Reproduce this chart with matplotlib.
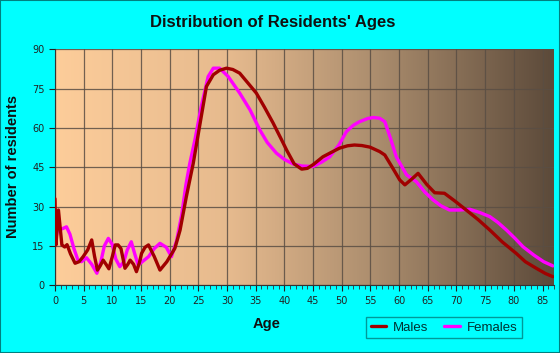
import numpy as np
import matplotlib
matplotlib.use("Agg")
import matplotlib.pyplot as plt
from matplotlib.colors import LinearSegmentedColormap

# ---- data ----
male_age = [0, 0.17, 0.6, 1.2, 1.7, 2.1, 2.7, 3.5, 4.2, 4.9, 5.7, 6.4, 6.9, 7.4, 7.9, 8.4,
            8.9, 9.4, 10.0, 10.5, 11.0, 11.5, 12.2, 12.7, 13.1, 13.7, 14.2, 14.7, 15.1, 15.7,
            16.3, 17.3, 18.3, 19.5, 20.9, 21.8, 22.9, 24.1, 25.3, 26.4, 27.6, 28.7, 29.9, 31.0,
            32.2, 33.5, 35.1, 36.5, 38.0, 39.5, 40.4, 41.7, 43.0, 44.0, 45.0, 46.7, 48.0, 49.6,
            51.0, 52.2, 53.5, 54.9, 56.6, 57.5, 58.8, 60.1, 61.0, 62.2, 63.3, 64.8, 66.2, 67.9,
            69.8, 71.7, 73.8, 75.8, 78.0, 80.4, 82.0, 83.9, 85.5, 86.8]
male_val = [33, 15.4, 28.7, 15.4, 14.6, 15.5, 12, 8.4, 9, 10.9, 13.5, 17.3, 11, 5.8, 7.5, 9.6,
            8, 6.3, 11, 15.4, 15.4, 14, 6.5, 8, 9.6, 8, 5.2, 8.5, 12.2, 14.5,
            15.4, 11, 5.8, 9, 14.1, 21, 33.8, 46.5, 61.8, 75.8, 80.3, 82, 82.8, 82.3,
            80.9, 77.5, 73.3, 68, 62, 55.5, 51.5, 46.3, 44.3, 44.6, 46, 49, 50.5, 52.3,
            53.2, 53.5, 53.3, 52.7, 51, 49.7, 45, 40.2, 38.3, 40.5, 42.7, 38.5, 35.3, 35.1,
            32, 28.7, 25, 21.1, 16.5, 12.2, 9, 6.5, 4.5, 3.3]

female_age = [0, 0.5, 1.2, 2.0, 2.6, 3.3, 4.0, 4.6, 5.5, 6.4, 7.3, 8.0, 8.6, 9.3, 10.0,
              10.6, 11.3, 12.0, 12.6, 13.3, 13.9, 14.5, 15.5, 16.3, 17.3, 18.3, 19.4, 20.3,
              21.2, 22.1, 22.8, 23.5, 24.4, 25.5, 26.7, 27.6, 28.7, 30.2, 32.2, 34.0, 35.7,
              37.0, 38.6, 40.0, 41.5, 43.0, 45.0, 46.5, 47.9, 49.5, 50.8, 52.0, 53.1, 54.5,
              55.5, 56.6, 57.5, 58.5, 59.5, 61.3, 63.0, 64.5, 65.9, 67.3, 68.8, 70.5, 72.3,
              74.0, 75.8, 77.2, 78.7, 80.2, 81.6, 83.5, 85.2, 86.8]
female_val = [16, 22, 21.5, 22.3, 19.5, 14, 9.6, 9, 10.5, 8, 4.6, 9, 15, 17.9, 15.5,
              10, 7.1, 9, 13.5, 16.6, 12, 7.7, 9.5, 10.9, 14, 16, 14.5, 10.9,
              17, 27, 38, 46.5, 55.5, 68.2, 79.6, 82.8, 82.8, 79.6, 73.3, 66.9, 59.3,
              54.5, 50.4, 48, 46.3, 45.5, 45.3, 47, 49, 53.5, 58.6, 61, 62.4, 63.6,
              64, 63.7, 62.4, 56, 49, 42.1, 39.5, 35.5, 32.6, 30.3, 28.7, 28.7, 29,
              27.8, 26.2, 24, 21.1, 17.9, 14.7, 11.5, 9, 7.4]

x_ticks = list(range(0, 86, 5))
y_ticks = list(range(0, 91, 15))

title = "Distribution of Residents' Ages"
xlabel = "Age"
ylabel = "Number of residents"

# ---- figure ----
W, H = 560, 353
fig = plt.figure(figsize=(W / 100, H / 100), dpi=100, facecolor="#00FFFF")
ax = fig.add_axes([55 / W, (H - 285.3) / H, 499 / W, 236 / H])
ax.set_xlim(0, 87)
ax.set_ylim(0, 90)

# gradient background
cmap = LinearSegmentedColormap.from_list(
    "bg", [(0.0, "#FDCD9A"), (0.35, "#E6BA8E"), (0.65, "#AA8C6D"), (1.0, "#5C4A3A")])
grad = np.linspace(0, 1, 256).reshape(1, -1)
ax.imshow(grad, extent=[0, 87, 0, 90], aspect="auto", cmap=cmap, zorder=0)

ax.set_xticks(x_ticks)
ax.set_xticks(range(0, 88), minor=True)
ax.set_yticks(y_ticks)
ax.grid(True, which="major", color="#5a4e44", linewidth=0.9, alpha=0.85, zorder=1)

ax.plot(male_age, male_val, color="#A00000", lw=2.4, solid_joinstyle="round",
        solid_capstyle="round", label="Males", zorder=3)
ax.plot(female_age, female_val, color="#FF00FF", lw=2.4, solid_joinstyle="round",
        solid_capstyle="round", label="Females", zorder=2)

for s in ax.spines.values():
    s.set_visible(False)
ax.spines["left"].set_visible(True)
ax.spines["bottom"].set_visible(True)
ax.spines["left"].set_color("#333333")
ax.spines["bottom"].set_color("#333333")

ax.tick_params(axis="both", which="major", labelsize=7, colors="#222222", length=4, width=0.8)
ax.tick_params(axis="x", which="minor", length=3, width=0.6, colors="#333333")
ax.tick_params(axis="x", pad=4)

for lab in ax.get_xticklabels() + ax.get_yticklabels():
    lab.set_fontfamily("DejaVu Sans")

fig.text(273 / W, 1 - 23 / H, title, ha="center", va="center", fontsize=12,
         fontweight="bold", color="#111111", family="Liberation Sans")
fig.text(267 / W, 1 - 324 / H, xlabel, ha="center", va="center", fontsize=10.5,
         fontweight="bold", color="#111111", family="Liberation Sans")
fig.text(13 / W, 1 - 166 / H, ylabel, ha="center", va="center", rotation=90,
         fontsize=10.5, fontweight="bold", color="#111111", family="Liberation Sans")

leg = fig.legend(loc="center", bbox_to_anchor=(444 / W, 1 - 327.5 / H), ncol=2,
                 frameon=True, fancybox=False, handlelength=1.2,
                 columnspacing=1.2, handletextpad=0.5, borderpad=0.35,
                 prop={"family": "Liberation Sans", "size": 9.5})
leg.get_frame().set_edgecolor("#008080")
leg.get_frame().set_facecolor("#00FFFF")
leg.get_frame().set_linewidth(1.0)
for t in leg.get_texts():
    t.set_color("#003333")

# outer border
fig.patches.append(plt.Rectangle((0, 0), 1, 1, transform=fig.transFigure, fill=False,
                                 edgecolor="#008080", linewidth=1.5))

fig.savefig("out.png", dpi=100, facecolor=fig.get_facecolor())
